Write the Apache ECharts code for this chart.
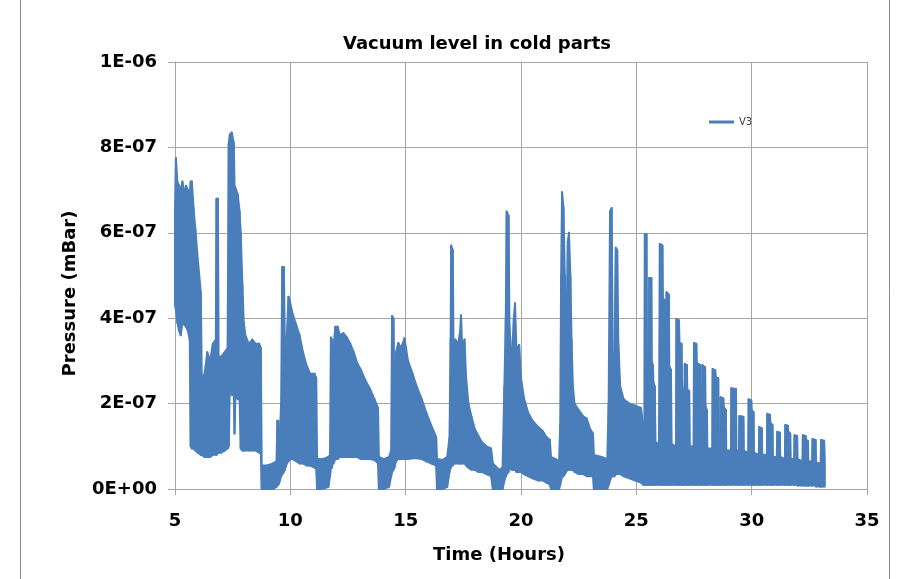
<!DOCTYPE html>
<html>
<head>
<meta charset="utf-8">
<title>Vacuum level in cold parts</title>
<script src="https://cdn.jsdelivr.net/npm/echarts@6/dist/echarts.min.js"></script>
<style>
  html, body { margin: 0; padding: 0; background: #fff; }
  #chart { width: 908px; height: 579px; }
</style>
</head>
<body>
<div id="chart"></div>
<script>
// V3 trace, read off the picture as an envelope (upper / lower edge of the dense band)
// pressure values are in units of 1E-07 mBar
const hours = [
  5.00, 5.04, 5.10, 5.18, 5.25, 5.32, 5.40, 5.48, 5.56, 5.64, 5.68, 5.73, 5.80, 5.88, 6.00, 6.12, 6.16, 6.28, 6.40, 6.52, 6.64, 6.77, 6.80, 6.86, 6.89, 7.00, 7.15, 7.28, 7.33, 7.38, 7.46, 7.55, 7.58, 7.62, 7.72, 7.80, 7.85, 7.92, 7.98, 8.05, 8.20, 8.35, 8.50, 8.65, 8.72, 8.76,
  9.00, 9.25, 9.40, 9.44, 9.48, 9.52, 9.60, 9.65, 9.72, 9.76, 9.85, 9.92, 9.98, 10.10, 10.25, 10.40, 10.55, 10.70, 10.85, 11.05, 11.12, 11.16,
  11.40, 11.65, 11.72, 11.76, 11.81, 11.84, 11.87, 11.95, 12.05, 12.15, 12.30, 12.45, 12.60, 12.75, 12.90, 13.05, 13.25, 13.45, 13.65, 13.80, 13.84,
  14.05, 14.28, 14.37, 14.41, 14.47, 14.51, 14.58, 14.68, 14.80, 14.95, 15.10, 15.30, 15.48, 15.70, 15.90, 16.10, 16.32, 16.36,
  16.60, 16.80, 16.90, 16.95, 16.97, 17.04, 17.08, 17.15, 17.28, 17.36, 17.40, 17.45, 17.55, 17.62, 17.72, 17.85, 18.00, 18.15, 18.30, 18.50, 18.70, 18.78,
  19.05, 19.20, 19.28, 19.34, 19.38, 19.46, 19.50, 19.60, 19.69, 19.74, 19.80, 19.92, 20.00, 20.12, 20.30, 20.50, 20.75, 20.95, 21.10, 21.25, 21.30,
  21.50, 21.65, 21.70, 21.74, 21.78, 21.84, 21.90, 21.95, 22.03, 22.08, 22.14, 22.19, 22.25, 22.32, 22.50, 22.70, 22.85, 23.00, 23.12, 23.16,
  23.50, 23.74, 23.80, 23.86, 23.93, 23.98, 24.05, 24.11, 24.17, 24.22, 24.30, 24.45, 24.70, 24.95, 25.20, 25.30,
  25.35, 25.37, 25.44, 25.47, 25.54, 25.56, 25.65, 25.67, 25.72, 25.74, 25.80, 25.83, 25.98,
  26.02, 26.13, 26.15, 26.26, 26.29, 26.31, 26.41, 26.43, 26.50, 26.53,
  26.72, 26.74, 26.85, 26.87, 26.96, 26.98, 27.03, 27.05,
  27.08, 27.10, 27.19, 27.21, 27.29, 27.32,
  27.48, 27.50, 27.60, 27.62, 27.78, 27.80,
  27.85, 27.87, 27.98, 28.00, 28.06, 28.08,
  28.29, 28.31, 28.42, 28.44, 28.55, 28.57,
  28.63, 28.65, 28.77, 28.79, 28.88, 28.90,
  29.10, 29.12, 29.32, 29.34,
  29.45, 29.47, 29.64, 29.66,
  29.85, 29.87, 29.98, 30.00, 30.08, 30.10,
  30.31, 30.33, 30.44, 30.46,
  30.66, 30.68, 30.79, 30.81, 30.90, 30.92,
  31.09, 31.11, 31.22, 31.24,
  31.44, 31.46, 31.57, 31.59, 31.67, 31.69,
  31.84, 31.86, 31.97, 31.99,
  32.20, 32.22, 32.34, 32.36, 32.44, 32.46,
  32.62, 32.64, 32.77, 32.79,
  32.99, 33.01, 33.14, 33.17
];
const upper = [
  6.6, 7.75, 7.2, 7.1, 7.0, 7.2, 6.95, 7.1, 7.0, 6.9, 7.2, 7.2, 6.6, 6.1, 5.3, 4.6, 2.6, 2.7, 3.2, 3.0, 3.4, 3.5, 6.8, 6.8, 3.1, 3.1, 3.2, 3.3, 8.1, 8.3, 8.35, 8.1, 7.1, 7.05, 6.9, 6.5, 6.0, 4.8, 3.9, 3.6, 3.4, 3.5, 3.4, 3.4, 3.3, 0.55,
  0.55, 0.6, 0.65, 1.6, 1.6, 0.9, 2.0, 5.2, 5.2, 3.5, 3.6, 4.5, 4.4, 4.1, 3.85, 3.6, 3.2, 2.9, 2.7, 2.7, 2.6, 0.7,
  0.7, 0.75, 0.8, 3.55, 3.5, 3.0, 3.3, 3.8, 3.8, 3.6, 3.65, 3.55, 3.4, 3.2, 2.95, 2.8, 2.55, 2.35, 2.1, 1.9, 0.75,
  0.7, 0.75, 0.9, 4.05, 4.0, 2.2, 3.2, 3.42, 3.3, 3.53, 3.0, 2.7, 2.4, 2.1, 1.78, 1.5, 1.22, 0.7,
  0.68, 0.75, 1.2, 3.5, 5.7, 5.6, 3.0, 3.5, 3.4, 3.7, 4.07, 3.3, 3.5, 2.6, 2.0, 1.7, 1.4, 1.25, 1.1, 1.0, 0.95, 0.6,
  0.45, 0.5, 2.4, 4.0, 6.5, 6.4, 3.8, 3.0, 4.0, 4.35, 3.3, 3.37, 2.6, 2.15, 1.8, 1.6, 1.45, 1.35, 1.22, 1.15, 0.75,
  0.7, 0.65, 1.5, 5.0, 6.95, 6.6, 5.0, 3.0, 5.8, 6.0, 5.0, 3.5, 2.4, 2.0, 1.85, 1.7, 1.65, 1.4, 1.3, 0.8,
  0.75, 0.7, 2.0, 6.5, 6.58, 2.8, 3.2, 5.65, 5.6, 3.4, 2.4, 2.1, 2.0, 1.95, 1.9, 1.5,
  1.6, 5.97, 5.97, 2.0, 1.8, 4.94, 4.94, 2.97, 2.9, 2.5, 2.4, 1.1, 1.05,
  5.74, 5.7, 4.47, 4.4, 2.5, 4.61, 4.55, 2.86, 2.8, 1.05,
  1.0, 3.98, 3.95, 3.42, 3.4, 2.5, 2.3, 1.0,
  1.0, 2.93, 2.9, 2.32, 2.3, 1.0,
  1.0, 3.42, 3.4, 2.95, 2.9, 1.0,
  1.0, 2.9, 2.85, 1.92, 1.85, 0.95,
  0.95, 2.81, 2.78, 2.62, 2.6, 0.95,
  0.95, 2.15, 2.12, 1.92, 1.85, 0.9,
  0.9, 2.36, 2.34, 0.9,
  0.9, 1.71, 1.69, 0.9,
  0.85, 2.1, 2.08, 1.85, 1.8, 0.85,
  0.8, 1.45, 1.42, 0.8,
  0.8, 1.76, 1.74, 1.55, 1.5, 0.75,
  0.75, 1.34, 1.32, 0.75,
  0.7, 1.5, 1.48, 1.34, 1.3, 0.7,
  0.7, 1.26, 1.24, 0.7,
  0.65, 1.26, 1.24, 1.15, 1.12, 0.65,
  0.65, 1.17, 1.15, 0.62,
  0.6, 1.15, 1.13, 0.65
];
const lower = [
  4.3, 4.2, 3.9, 3.7, 3.6, 3.9, 3.85, 3.8, 3.7, 3.5, 1.0, 0.95, 0.95, 0.9, 0.85, 0.8, 0.8, 0.75, 0.75, 0.75, 0.8, 0.8, 0.8, 0.85, 0.85, 0.85, 0.9, 0.95, 1.0, 2.5, 2.2, 2.2, 1.3, 2.2, 2.1, 2.1, 0.95, 0.9, 0.9, 0.9, 0.9, 0.9, 0.9, 0.85, 0.85, 0,
  0, 0, 0.05, 0.1, 0.1, 0.15, 0.3, 0.35, 0.4, 0.45, 0.6, 0.65, 0.7, 0.7, 0.65, 0.6, 0.6, 0.55, 0.55, 0.5, 0.5, 0,
  0, 0.05, 0.3, 0.5, 0.5, 1.5, 0.6, 0.7, 0.7, 0.75, 0.75, 0.75, 0.75, 0.75, 0.75, 0.7, 0.7, 0.7, 0.68, 0.6, 0,
  0, 0.05, 0.3, 0.4, 0.45, 0.5, 0.65, 0.7, 0.7, 0.7, 0.7, 0.72, 0.72, 0.7, 0.65, 0.6, 0.55, 0,
  0, 0.05, 0.4, 0.5, 0.55, 0.55, 0.6, 0.6, 0.6, 0.6, 0.6, 0.6, 0.6, 0.55, 0.5, 0.45, 0.45, 0.4, 0.4, 0.35, 0.3, 0,
  0, 0, 0.2, 0.3, 0.35, 0.4, 0.5, 0.45, 0.45, 0.45, 0.4, 0.4, 0.4, 0.35, 0.3, 0.25, 0.2, 0.2, 0.15, 0.1, 0,
  0, 0, 0.1, 0.2, 0.3, 0.3, 0.35, 0.4, 0.45, 0.45, 0.45, 0.45, 0.45, 0.4, 0.35, 0.35, 0.3, 0.3, 0.3, 0,
  0, 0, 0.1, 0.2, 0.3, 0.3, 0.3, 0.35, 0.35, 0.35, 0.35, 0.3, 0.25, 0.2, 0.15, 0.1,
  0.1, 0.1, 0.1, 0.1, 0.1, 0.1, 0.1, 0.1, 0.1, 0.1, 0.1, 0.1, 0.1,
  0.1, 0.1, 0.1, 0.1, 0.1, 0.1, 0.1, 0.1, 0.1, 0.1,
  0.1, 0.1, 0.1, 0.1, 0.1, 0.1, 0.1, 0.1,
  0.1, 0.1, 0.1, 0.1, 0.1, 0.1,
  0.1, 0.1, 0.1, 0.1, 0.1, 0.1,
  0.1, 0.1, 0.1, 0.1, 0.1, 0.1,
  0.1, 0.1, 0.1, 0.1, 0.1, 0.1,
  0.1, 0.1, 0.1, 0.1, 0.1, 0.1,
  0.1, 0.1, 0.1, 0.1,
  0.1, 0.1, 0.1, 0.1,
  0.1, 0.1, 0.1, 0.1, 0.1, 0.1,
  0.1, 0.1, 0.1, 0.1,
  0.1, 0.1, 0.1, 0.1, 0.1, 0.1,
  0.1, 0.1, 0.1, 0.1,
  0.1, 0.1, 0.1, 0.1, 0.1, 0.1,
  0.1, 0.1, 0.1, 0.08,
  0.08, 0.08, 0.08, 0.08, 0.08, 0.08,
  0.08, 0.08, 0.08, 0.06,
  0.06, 0.06, 0.06, 0.06
];
const yTickLabels = ['0E+00', '2E-07', '4E-07', '6E-07', '8E-07', '1E-06'];

const lineColor = '#4A7EBB';
const textFont = 'DejaVu Sans';

if (hours.length !== upper.length || hours.length !== lower.length) {
  console.error('length mismatch', hours.length, upper.length, lower.length);
}

const bandData = hours.map((t, i) => [t, upper[i], lower[i]]);

const chart = echarts.init(document.getElementById('chart'));

chart.setOption({
  animation: false,
  color: [lineColor],
  title: {
    text: 'Vacuum level in cold parts',
    left: 338,
    top: 30,
    textStyle: { fontFamily: textFont, fontSize: 18, fontWeight: 'bold', color: '#000' }
  },
  legend: {
    data: [{ name: 'V3', icon: 'rect' }],
    left: 704,
    top: 112,
    itemWidth: 25,
    itemHeight: 3,
    textStyle: { fontFamily: textFont, fontSize: 10, color: '#404040' }
  },
  grid: { left: 175, right: 41, top: 62, bottom: 90, containLabel: false },
  xAxis: {
    type: 'value',
    min: 5,
    max: 35,
    interval: 5,
    name: 'Time (Hours)',
    nameLocation: 'middle',
    nameGap: 57,
    nameTextStyle: { fontFamily: textFont, fontSize: 18, fontWeight: 'bold', color: '#000', padding: [0, 44, 0, 0] },
    axisLine: { show: true, lineStyle: { color: '#A6A6A6', width: 1 } },
    axisTick: { show: true, length: 6, lineStyle: { color: '#A6A6A6' } },
    axisLabel: { margin: 23, fontFamily: textFont, fontSize: 18, fontWeight: 'bold', color: '#000' },
    splitLine: { show: true, lineStyle: { color: '#A6A6A6', width: 1 } }
  },
  yAxis: {
    type: 'value',
    min: 0,
    max: 10,
    interval: 2,
    name: 'Pressure (mBar)',
    nameLocation: 'middle',
    nameRotate: 90,
    nameGap: 96,
    nameTextStyle: { fontFamily: textFont, fontSize: 18, fontWeight: 'bold', color: '#000', padding: [0, 36, 0, 0] },
    axisLine: { show: true, lineStyle: { color: '#A6A6A6', width: 1 } },
    axisTick: { show: true, length: 7, lineStyle: { color: '#A6A6A6' } },
    axisLabel: {
      margin: 18,
      fontFamily: textFont,
      fontSize: 18,
      fontWeight: 'bold',
      color: '#000',
      formatter: v => yTickLabels[Math.round(v / 2)]
    },
    splitLine: { show: true, lineStyle: { color: '#A6A6A6', width: 1 } }
  },
  graphic: [
    { type: 'line', shape: { x1: 20.5, y1: 0, x2: 20.5, y2: 579 }, style: { stroke: '#8A8A8A', lineWidth: 1 } },
    { type: 'line', shape: { x1: 889.5, y1: 0, x2: 889.5, y2: 579 }, style: { stroke: '#8A8A8A', lineWidth: 1 } }
  ],
  series: [{
    name: 'V3',
    type: 'custom',
    itemStyle: { color: lineColor },
    encode: { x: 0, y: [1, 2] },
    data: bandData,
    renderItem: (params, api) => {
      const i = params.dataIndex;
      if (i >= hours.length - 1) return null;
      // fill the band between this reading and the next one
      const pts = [
        api.coord([hours[i], lower[i]]),
        api.coord([hours[i], upper[i]]),
        api.coord([hours[i + 1], upper[i + 1]]),
        api.coord([hours[i + 1], lower[i + 1]])
      ];
      return {
        type: 'polygon',
        shape: { points: pts },
        style: { fill: lineColor, stroke: lineColor, lineWidth: 2, lineJoin: 'round' }
      };
    }
  }]
});
</script>
</body>
</html>
